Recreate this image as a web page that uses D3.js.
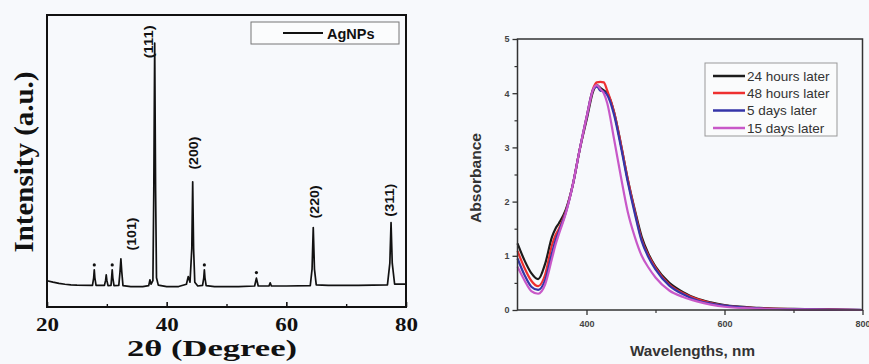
<!DOCTYPE html>
<html><head><meta charset="utf-8">
<script src="https://cdn.jsdelivr.net/npm/d3@7"></script>
<style>
html,body{margin:0;padding:0;background:#f7f9fc;}
svg{display:block;}
</style></head>
<body>
<svg id="c" width="869" height="364"></svg>
<script>
// ---------- Left chart: XRD pattern ----------
const xrdTheta = [20,21,22,23,24,25,27.6,27.8,27.9,28,28.2,29.6,29.8,29.9,30,30.2,30.7,30.8,30.9,31,31.2,32,32.2,32.35,32.5,32.7,34,36,37,37.2,37.4,37.7,37.85,38,38.15,38.3,38.6,40,42,43.3,43.6,43.9,44.2,44.35,44.5,44.7,45.2,46,46.2,46.3,46.4,46.6,48,52,54.7,54.9,55,55.1,55.3,57.1,57.3,57.5,60,64,64.3,64.5,64.7,65,67,72,76.9,77.3,77.5,77.7,78.1,80];
const xrdIntensity = [90,85,81,78,76,75,74,100,127,100,74,74,92,110,92,73,74,100,127,100,73,74,120,165,120,73,70,70,73,93,78,90,400,904,400,100,75,70,70,78,104,85,200,429,200,85,72,74,100,127,100,73,70,70,72,90,99,90,72,72,83,72,72,73,130,272,130,76,74,74,76,150,289,150,78,78];
const markerTheta = [27.9,30.9,46.3,55.0];
const markerIntensity = [144,144,144,118];
const peakLabels = ["(101)","(111)","(200)","(220)","(311)"];
const peakLabelTheta = [34.05,36.9,44.4,64.6,77.2];
const peakLabelIntensity = [250,908,527,360,366];
const xrdTicks = [20,40,60,80];
const xrdMinorTicks = [30,50,70];
const xrdSeriesName = "AgNPs";

// ---------- Right chart: UV-Vis ----------
const wavelengths = [300,310,320,330,340,350,355,360,370,380,390,400,410,415,420,425,430,440,450,460,470,480,490,500,520,540,560,580,600,650,700,750,800];
const abs24h = [1.23,0.92,0.68,0.57,0.85,1.35,1.5,1.6,1.85,2.3,2.95,3.5,4.05,4.15,4.1,4.05,4.0,3.65,3.05,2.4,1.85,1.35,1.03,0.8,0.5,0.33,0.21,0.14,0.09,0.04,0.02,0.01,0.0];
const abs48h = [1.09,0.78,0.54,0.44,0.65,1.2,1.38,1.5,1.82,2.3,2.95,3.55,4.1,4.2,4.21,4.2,4.05,3.65,3.05,2.4,1.82,1.3,1.0,0.78,0.47,0.31,0.2,0.13,0.08,0.035,0.015,0.01,0.0];
const abs5d = [0.95,0.65,0.43,0.37,0.55,1.05,1.28,1.45,1.8,2.3,2.95,3.55,4.08,4.12,4.05,4.03,3.97,3.6,3.0,2.35,1.78,1.27,0.97,0.75,0.45,0.29,0.18,0.12,0.08,0.03,0.015,0.008,0.0];
const abs15d = [0.80,0.55,0.35,0.30,0.47,0.95,1.2,1.4,1.78,2.3,2.95,3.55,4.08,4.15,4.08,4.0,3.82,3.15,2.45,1.8,1.35,1.0,0.78,0.6,0.36,0.24,0.16,0.1,0.06,0.025,0.01,0.005,0.0];
const uvSeriesNames = ["24 hours later","48 hours later","5 days later","15 days later"];
const uvColors = ["#1c1c1c","#ee3030","#3535a8","#c858c8"];
const uvXTicks = [400,600,800];
const uvXMinor = [500,700];
const uvYTicks = [0,1,2,3,4,5];
const uvYMinor = [0.5,1.5,2.5,3.5,4.5];

const svg = d3.select("#c");

// ===== Left chart =====
const L = {l:47, r:406, t:15, b:307};
const xL = d3.scaleLinear().domain([20,80]).range([L.l, L.r]);
const yL = d3.scaleLinear().domain([0,1000]).range([L.b, L.t]);
const gL = svg.append("g");

const xrdData = xrdTheta.map((t,i)=>[t, xrdIntensity[i]]);
gL.append("path").datum(xrdData)
  .attr("fill","none").attr("stroke","#111").attr("stroke-width",1.7)
  .attr("stroke-linejoin","round")
  .attr("d", d3.line().x(d=>xL(d[0])).y(d=>yL(d[1])));

gL.selectAll("circle.mk").data(markerTheta).enter().append("circle")
  .attr("cx",(d)=>xL(d)).attr("cy",(d,i)=>yL(markerIntensity[i])).attr("r",1.6).attr("fill","#111");

// axis ticks (inward)
const axL = d3.axisBottom(xL).tickValues(xrdTicks).tickSizeInner(-5).tickSizeOuter(0).tickFormat(d3.format("d"));
const axG = gL.append("g").attr("transform",`translate(0,${L.b})`).call(axL);
axG.select(".domain").remove();
axG.selectAll("line").attr("stroke","#111").attr("stroke-width",1.6);
axG.selectAll("text").attr("font-family","'Liberation Serif','Times New Roman',serif")
  .attr("font-weight","bold").attr("font-size",18).attr("fill","#111")
  .attr("y",23.5).attr("dy",0).attr("textLength",23).attr("lengthAdjust","spacingAndGlyphs");
const axLm = d3.axisBottom(xL).tickValues(xrdMinorTicks).tickSizeInner(-3).tickSizeOuter(0).tickFormat("");
const axGm = gL.append("g").attr("transform",`translate(0,${L.b})`).call(axLm);
axGm.select(".domain").remove();
axGm.selectAll("line").attr("stroke","#111").attr("stroke-width",1.4);

gL.append("rect").attr("x",L.l).attr("y",L.t).attr("width",L.r-L.l).attr("height",L.b-L.t)
  .attr("fill","none").attr("stroke","#111").attr("stroke-width",2);

// peak labels
gL.selectAll("text.pk").data(peakLabels).enter().append("text")
  .attr("transform",(d,i)=>`translate(${xL(peakLabelTheta[i])},${yL(peakLabelIntensity[i])}) rotate(-90)`)
  .attr("text-anchor","middle").attr("dy","0.36em")
  .attr("font-family","'Liberation Sans',Arial,sans-serif").attr("font-weight","bold")
  .attr("font-size",13.5).attr("fill","#111")
  .attr("textLength",33).attr("lengthAdjust","spacingAndGlyphs")
  .text(d=>d);

// legend
gL.append("rect").attr("x",251).attr("y",22).attr("width",148).attr("height",22)
  .attr("fill","#fbfcfd").attr("stroke","#777").attr("stroke-width",1);
gL.append("line").attr("x1",283).attr("x2",323).attr("y1",33).attr("y2",33)
  .attr("stroke","#111").attr("stroke-width",2);
gL.append("text").attr("x",327).attr("y",38.5)
  .attr("font-family","'Liberation Sans',Arial,sans-serif").attr("font-weight","bold")
  .attr("font-size",14.5).attr("fill","#111").text(xrdSeriesName);

// axis titles
gL.append("text").attr("x",212).attr("y",355.5).attr("text-anchor","middle")
  .attr("font-family","'Liberation Serif','Times New Roman',serif").attr("font-weight","bold")
  .attr("font-size",24).attr("fill","#111")
  .attr("textLength",170).attr("lengthAdjust","spacingAndGlyphs")
  .text("2θ (Degree)");
gL.append("text").attr("transform","translate(33,162) rotate(-90)").attr("text-anchor","middle")
  .attr("font-family","'Liberation Serif','Times New Roman',serif").attr("font-weight","bold")
  .attr("font-size",27).attr("fill","#111")
  .attr("textLength",181).attr("lengthAdjust","spacingAndGlyphs")
  .text("Intensity (a.u.)");

// ===== Right chart =====
const R = {l:517.5, r:862.5, t:39, b:310};
const xR = d3.scaleLinear().domain([300,800]).range([R.l, R.r]);
const yR = d3.scaleLinear().domain([0,5]).range([R.b, R.t]);
const gR = svg.append("g");

const series = [abs24h, abs48h, abs5d, abs15d];
const lineR = d3.line().x(d=>xR(d[0])).y(d=>yR(d[1])).curve(d3.curveMonotoneX);
series.forEach((s,k)=>{
  gR.append("path").datum(wavelengths.map((w,i)=>[w,s[i]]))
    .attr("fill","none").attr("stroke",uvColors[k]).attr("stroke-width",2.2)
    .attr("stroke-linejoin","round").attr("d",lineR);
});

gR.append("rect").attr("x",R.l).attr("y",R.t).attr("width",R.r-R.l).attr("height",R.b-R.t)
  .attr("fill","none").attr("stroke","#333").attr("stroke-width",1.5);

const tickFont = "'Liberation Sans',Arial,sans-serif";
const axRx = d3.axisBottom(xR).tickValues(uvXTicks).tickSizeInner(5).tickSizeOuter(0).tickPadding(6).tickFormat(d3.format("d"));
const gx = gR.append("g").attr("transform",`translate(0,${R.b})`).call(axRx);
gx.select(".domain").remove();
gx.selectAll("line").attr("stroke","#333").attr("stroke-width",1.3);
gx.selectAll("text").attr("font-family",tickFont).attr("font-weight","bold").attr("font-size",9).attr("fill","#444");
const axRxm = d3.axisBottom(xR).tickValues(uvXMinor).tickSizeInner(3).tickSizeOuter(0).tickFormat("");
const gxm = gR.append("g").attr("transform",`translate(0,${R.b})`).call(axRxm);
gxm.select(".domain").remove();
gxm.selectAll("line").attr("stroke","#333").attr("stroke-width",1.2);

const axRy = d3.axisLeft(yR).tickValues(uvYTicks).tickSizeInner(5).tickSizeOuter(0).tickPadding(3).tickFormat(d3.format("d"));
const gy = gR.append("g").attr("transform",`translate(${R.l},0)`).call(axRy);
gy.select(".domain").remove();
gy.selectAll("line").attr("stroke","#333").attr("stroke-width",1.3);
gy.selectAll("text").attr("font-family",tickFont).attr("font-weight","bold").attr("font-size",9).attr("fill","#444");
const axRym = d3.axisLeft(yR).tickValues(uvYMinor).tickSizeInner(3).tickSizeOuter(0).tickFormat("");
const gym = gR.append("g").attr("transform",`translate(${R.l},0)`).call(axRym);
gym.select(".domain").remove();
gym.selectAll("line").attr("stroke","#333").attr("stroke-width",1.2);

// axis titles
gR.append("text").attr("x",692.5).attr("y",356).attr("text-anchor","middle")
  .attr("font-family",tickFont).attr("font-weight","bold").attr("font-size",15).attr("fill","#333")
  .attr("textLength",125).attr("lengthAdjust","spacingAndGlyphs").text("Wavelengths, nm");
gR.append("text").attr("transform","translate(481,178) rotate(-90)").attr("text-anchor","middle")
  .attr("font-family",tickFont).attr("font-weight","bold").attr("font-size",14).attr("fill","#333")
  .attr("textLength",90).attr("lengthAdjust","spacingAndGlyphs").text("Absorbance");

// legend
const lg = gR.append("g");
lg.append("rect").attr("x",705).attr("y",63).attr("width",132).attr("height",73)
  .attr("fill","#fafbfc").attr("stroke","#999").attr("stroke-width",1);
const legY = [76,93,110.5,128];
uvSeriesNames.forEach((n,k)=>{
  lg.append("line").attr("x1",713).attr("x2",745).attr("y1",legY[k]).attr("y2",legY[k])
    .attr("stroke",uvColors[k]).attr("stroke-width",2.5);
  lg.append("text").attr("x",747).attr("y",legY[k]+4.8)
    .attr("font-family",tickFont).attr("font-size",13.5).attr("fill","#333").text(n);
});
</script>
</body></html>
